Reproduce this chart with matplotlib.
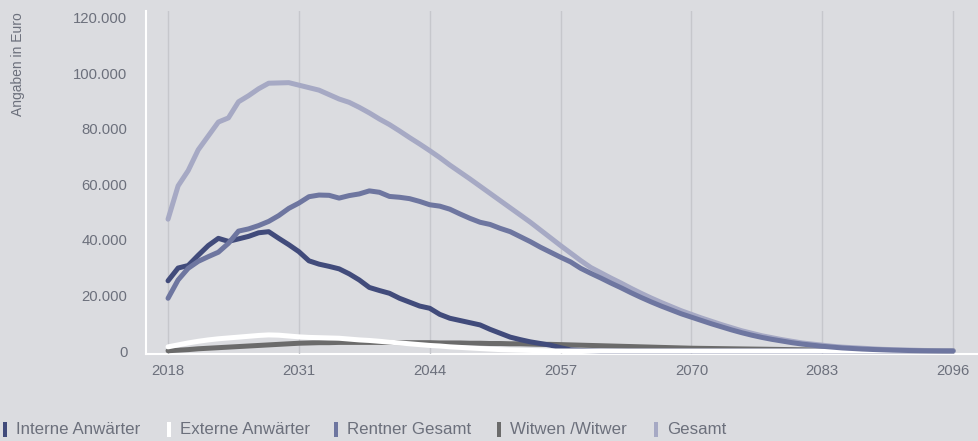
import matplotlib
matplotlib.use("Agg")
import matplotlib.pyplot as plt
from matplotlib.patches import Rectangle
from matplotlib.ticker import FuncFormatter, FixedLocator

plt.rcParams['font.family'] = ['Liberation Sans', 'DejaVu Sans']

years = list(range(2018, 2097))

interne = [25300, 29900, 30800, 34500, 38000, 40600, 39500, 40400, 41300, 42600,
           43000, 40600, 38300, 35800, 32500, 31300, 30500, 29600, 27800, 25600,
           22900, 21800, 20800, 19000, 17600, 16200, 15400, 13200, 11800, 11000,
           10200, 9400, 7800, 6400, 5000, 4100, 3300, 2700, 2100, 1200,
           400, 200, 100, 0, 0, 0, 0, 0, 0, 0,
           0, 0, 0, 0, 0, 0, 0, 0, 0, 0,
           0, 0, 0, 0, 0, 0, 0, 0, 0, 0,
           0, 0, 0, 0, 0, 0, 0, 0, 0]

externe = [1500, 2200, 2900, 3500, 4000, 4400, 4700, 5000, 5300, 5600,
           5800, 5700, 5400, 5100, 4900, 4800, 4700, 4600, 4300, 4000,
           3800, 3500, 3200, 2900, 2600, 2300, 2000, 1800, 1500, 1300,
           1100, 900, 700, 500, 400, 300, 200, 100, 0, 0,
           0, 0, 0, 0, 0, 0, 0, 0, 0, 0,
           0, 0, 0, 0, 0, 0, 0, 0, 0, 0,
           0, 0, 0, 0, 0, 0, 0, 0, 0, 0,
           0, 0, 0, 0, 0, 0, 0, 0, 0]

rentner = [19000, 25600, 29800, 32300, 34000, 35600, 38800, 43200, 44000, 45200,
           46700, 48800, 51400, 53300, 55600, 56200, 56100, 55100, 56000, 56600,
           57700, 57200, 55700, 55400, 54900, 53900, 52700, 52200, 51100, 49400,
           47800, 46400, 45600, 44200, 43000, 41200, 39400, 37400, 35600, 33800,
           32100, 29800, 28000, 26300, 24500, 22800, 21000, 19300, 17700, 16200,
           14800, 13400, 12200, 11000, 9800, 8700, 7600, 6600, 5700, 4900,
           4200, 3600, 3000, 2500, 2100, 1700, 1400, 1100, 900, 700,
           550, 420, 300, 220, 150, 100, 60, 30, 20]

witwen = [100, 300, 500, 800, 1000, 1200, 1400, 1600, 1800, 2000,
          2200, 2400, 2600, 2800, 2900, 3000, 3000, 3100, 3100, 3100,
          3100, 3100, 3100, 3000, 3000, 3000, 3000, 2900, 2900, 2900,
          2800, 2800, 2700, 2700, 2600, 2600, 2500, 2400, 2400, 2300,
          2200, 2100, 2000, 1900, 1800, 1700, 1600, 1500, 1400, 1300,
          1200, 1100, 1000, 950, 900, 850, 800, 750, 700, 650,
          600, 550, 500, 450, 400, 380, 350, 320, 300, 270,
          240, 210, 180, 150, 120, 100, 80, 60, 50]

gesamt = [47500, 59500, 65000, 72500, 77500, 82500, 84000, 89800, 92000, 94500,
          96500, 96600, 96700, 95800, 94900, 94000, 92400, 90800, 89600, 87800,
          85800, 83600, 81600, 79300, 76900, 74600, 72200, 69700, 67000, 64500,
          62000, 59400, 56800, 54200, 51600, 49000, 46400, 43600, 40800, 38000,
          35300, 32600, 30100, 28200, 26300, 24500, 22600, 20800, 19100, 17500,
          16000, 14500, 13200, 11900, 10700, 9500, 8400, 7300, 6400, 5500,
          4800, 4100, 3500, 2900, 2500, 2100, 1700, 1400, 1200, 1000,
          800, 600, 500, 400, 300, 200, 150, 100, 70]

x_ticks = [2018, 2031, 2044, 2057, 2070, 2083, 2096]
y_ticks = [0, 20000, 40000, 60000, 80000, 100000, 120000]
labels = ["Interne Anwärter", "Externe Anwärter", "Rentner Gesamt", "Witwen /Witwer", "Gesamt"]

bg = "#dbdce0"
c_int = "#414b7b"
c_ext = "#ffffff"
c_ren = "#6e76a0"
c_wit = "#6b6b6b"
c_ges = "#a6a9c4"
txt = "#6c707c"
grid = "#c6c7cc"

W, H = 979, 441
fig = plt.figure(figsize=(W / 100, H / 100), dpi=100, facecolor=bg)
ax = fig.add_axes([146 / W, 87 / H, (977 - 146) / W, (354 - 11) / H])
ax.set_facecolor(bg)

lw = 3.6
kw = dict(lw=lw, solid_capstyle='round', solid_joinstyle='round')
ax.plot(years, gesamt, color=c_ges, zorder=2, **kw)
ax.plot(years, witwen, color=c_wit, zorder=3, **kw)
ax.plot(years, interne, color=c_int, zorder=4, **kw)
ax.plot(years, externe, color=c_ext, zorder=5, **kw)
ax.plot(years, rentner, color=c_ren, zorder=6, **kw)

ax.set_xlim(2015.81, 2098.38)
ax.set_ylim(-1080, 122520)

ax.xaxis.set_major_locator(FixedLocator(x_ticks))
ax.yaxis.set_major_locator(FixedLocator(y_ticks))
ax.yaxis.set_major_formatter(FuncFormatter(lambda v, p: f"{int(v):,}".replace(",", ".")))
ax.grid(axis='x', color=grid, lw=1.0, zorder=1)
ax.grid(axis='y', visible=False)
ax.tick_params(axis='both', length=0, labelsize=10.7, colors=txt)
ax.tick_params(axis='y', pad=13.5)
ax.tick_params(axis='x', pad=7)

for s in ['top', 'right']:
    ax.spines[s].set_visible(False)
for s in ['left', 'bottom']:
    ax.spines[s].set_color('white')
    ax.spines[s].set_linewidth(1.5)
    ax.spines[s].set_zorder(1.5)

fig.text(18 / W, 1 - 64 / H, "Angaben in Euro", rotation=90, ha='center', va='center',
         fontsize=10, color=txt)

# legend
marker_x = [3, 167, 334, 497, 654]
colors = [c_int, c_ext, c_ren, c_wit, c_ges]
for mx, col, lab in zip(marker_x, colors, labels):
    fig.patches.append(Rectangle((mx / W, 1 - 437 / H), 4 / W, 15 / H,
                                 transform=fig.transFigure, facecolor=col,
                                 edgecolor='none', figure=fig))
    fig.text((mx + 13) / W, 1 - 429.5 / H, lab, ha='left', va='center',
             fontsize=12.2, color=txt)

fig.savefig("out.png", dpi=100, facecolor=bg)
